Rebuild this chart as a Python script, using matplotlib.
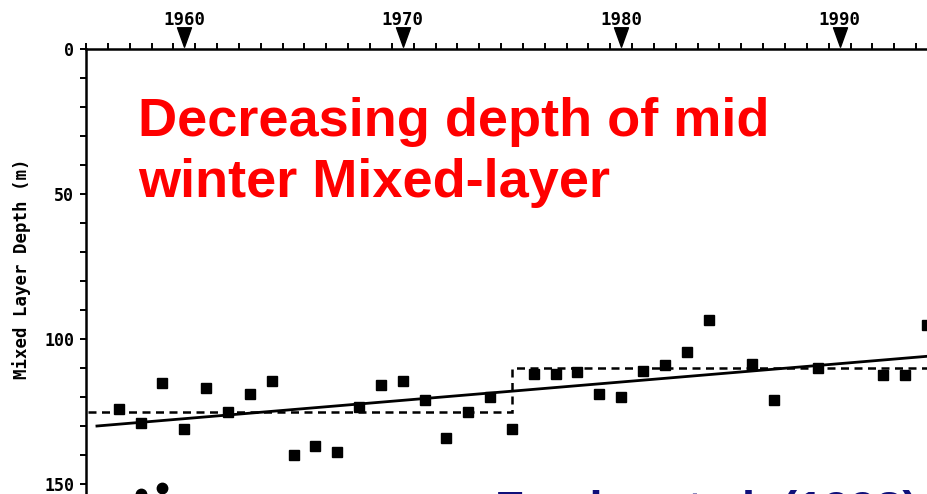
"""
    mixed layer depth time series
"""

# Import relevant libraries
import numpy as np
import matplotlib.pyplot as plt
from matplotlib import transforms
from matplotlib.path import Path

# Winter mixed-layer depth (m) per year
years = [1957, 1958, 1959, 1960, 1961, 1962, 1963, 1964, 1965, 1966, 1967,
         1968, 1969, 1970, 1971, 1972, 1973, 1974, 1975, 1976, 1977, 1978,
         1979, 1980, 1981, 1982, 1983, 1984, 1986, 1987, 1989, 1992, 1993,
         1994]
depths = [124, 129, 115, 131, 117, 125, 119, 114.5, 140, 137, 139,
          123.5, 116, 114.5, 121, 134, 125, 120, 131, 112, 112, 111.5,
          119, 120, 111, 109, 104.5, 93.5, 108.5, 121, 110, 112.5, 112.5,
          95]

# Deep outliers at the bottom of the panel
extra_years = [1958, 1959]
extra_depths = [153.5, 151.5]

# Mean depth before and after 1975
step_edges = [1955.6, 1975.0, 1996.0]
step_means = [125, 110]

# Linear trend
trend_years = [1956.0, 1996.0]
trend_depths = [130.0, 104.7]

decades = [1960, 1970, 1980, 1990]
depth_labels = [0, 50, 100, 150]

mono = "DejaVu Sans Mono"

fig = plt.figure(figsize=(9.27, 4.94), dpi=100)
ax = fig.add_axes([0.0928, -0.0385, 0.9543, 0.9393])

ax.set_xlim(1955.5, 1996)
ax.set_ylim(160, 0)

# Data points, step means and trend
ax.plot(years, depths, linestyle="none", marker="s", markersize=7,
        color="black")
ax.plot(extra_years, extra_depths, linestyle="none", marker="o",
        markersize=7.5, color="black")
ax.stairs(step_means, step_edges, baseline=None, color="black",
          linewidth=1.8, linestyle=(0, (3.2, 2.2)))
ax.plot(trend_years, trend_depths, color="black", linewidth=2)

# Axes styling: only the top and left frame lines
for side in ["right", "bottom"]:
    ax.spines[side].set_visible(False)
for side in ["top", "left"]:
    ax.spines[side].set_linewidth(1.8)

ax.xaxis.tick_top()
ax.set_xticks(np.arange(1955.5, 1996, 1))
ax.set_xticklabels([])
ax.tick_params(axis="x", direction="out", length=4, width=1.4)

ax.set_yticks(np.arange(0, 161, 10))
ax.set_yticklabels([str(v) if v in depth_labels else "" for v in
                    np.arange(0, 161, 10)])
ax.tick_params(axis="y", direction="out", length=4.5, width=1.4, pad=4)
for lab in ax.get_yticklabels():
    lab.set_fontfamily(mono)
    lab.set_fontweight("bold")
    lab.set_fontsize(12)

# Decade markers above the axis
tri = Path([(-0.36, 0.5), (0.36, 0.5), (0.0, -0.5), (-0.36, 0.5)],
           [Path.MOVETO, Path.LINETO, Path.LINETO, Path.CLOSEPOLY])
tri_trans = transforms.offset_copy(ax.transData, fig=fig, x=0, y=12,
                                   units="dots")
ax.plot(decades, [0] * len(decades), linestyle="none", marker=tri,
        markersize=14, color="black", transform=tri_trans, clip_on=False)
for yr in decades:
    ax.annotate(str(yr), xy=(yr, 0), xytext=(0, 21),
                textcoords="offset points", ha="center", va="center",
                fontsize=12.5, fontfamily=mono, fontweight="bold",
                annotation_clip=False)

fig.text(22 / 927, 1 - 269 / 494, "Mixed Layer Depth (m)", rotation=90,
         ha="center", va="center", fontsize=12.5, fontfamily=mono,
         fontweight="bold")

# Headline and reference
fig.text(138 / 927, 1 - 136 / 494, "Decreasing depth of mid",
         fontsize=39, fontfamily="Liberation Sans", fontweight="bold",
         color="#ff0000", va="baseline")
fig.text(138 / 927, 1 - 197 / 494, "winter Mixed-layer",
         fontsize=39, fontfamily="Liberation Sans", fontweight="bold",
         color="#ff0000", va="baseline")
fig.text(495 / 927, 1 - 524 / 494, "Fowler et al. (1998)",
         fontsize=34, fontfamily="Liberation Sans", fontweight="bold",
         color="#10107a", va="baseline")

plt.savefig("out.png", dpi=100)
